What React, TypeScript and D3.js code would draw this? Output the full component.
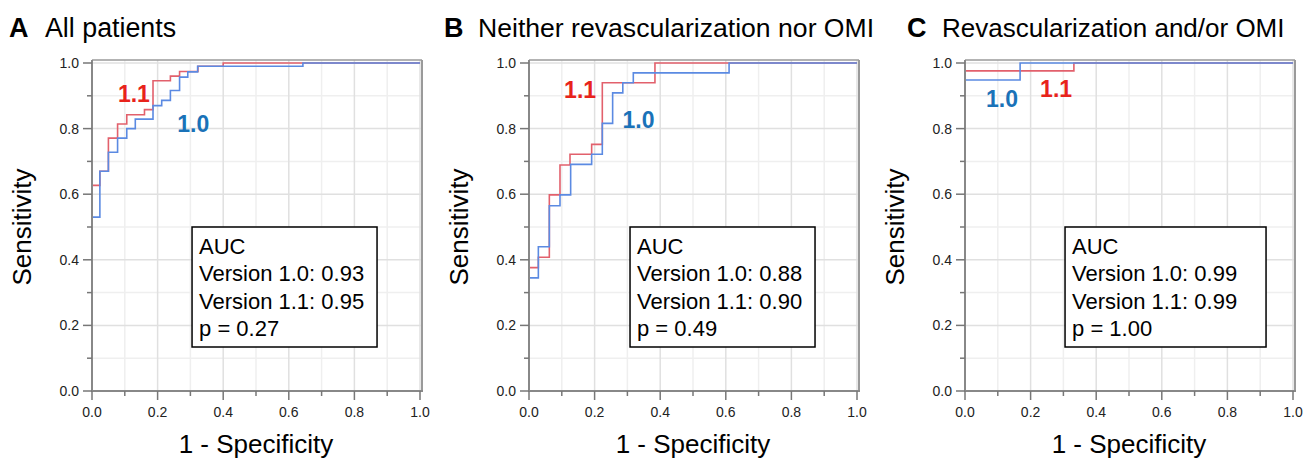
import React from "react";
import * as d3 from "d3";

// ---------- data ----------
const panelLetters = ["A", "B", "C"];
const panelTitles = ["All patients", "Neither revascularization nor OMI", "Revascularization and/or OMI"];

// ROC jump points: [1 - specificity, sensitivity]
const rocA_v10: [number, number][] = [[0, 0], [0, 0.53], [0.024, 0.67], [0.05, 0.728], [0.078, 0.771], [0.106, 0.8], [0.132, 0.829], [0.186, 0.87], [0.2125, 0.886], [0.239, 0.916], [0.267, 0.957], [0.292, 0.973], [0.322, 0.99], [0.643, 1.0], [1, 1]];
const rocA_v11: [number, number][] = [[0, 0], [0, 0.627], [0.024, 0.67], [0.05, 0.771], [0.078, 0.814], [0.106, 0.842], [0.16, 0.858], [0.186, 0.946], [0.239, 0.96], [0.267, 0.974], [0.323, 0.99], [0.4, 1.0], [1, 1]];
const rocB_v10: [number, number][] = [[0, 0], [0, 0.345], [0.0285, 0.44], [0.062, 0.565], [0.0945, 0.598], [0.127, 0.691], [0.191, 0.722], [0.2235, 0.816], [0.255, 0.909], [0.286, 0.94], [0.318, 0.97], [0.61, 1.0], [1, 1]];
const rocB_v11: [number, number][] = [[0, 0], [0, 0.376], [0.0285, 0.408], [0.062, 0.598], [0.0945, 0.689], [0.125, 0.722], [0.191, 0.752], [0.2235, 0.94], [0.384, 1.0], [1, 1]];
const rocC_v10: [number, number][] = [[0, 0], [0, 0.948], [0.168, 1.0], [1, 1]];
const rocC_v11: [number, number][] = [[0, 0], [0, 0.976], [0.332, 1.0], [1, 1]];

const aucV10 = ["0.93", "0.88", "0.99"];
const aucV11 = ["0.95", "0.90", "0.99"];
const pValues = ["0.27", "0.49", "1.00"];

const majorTicks = [0, 0.2, 0.4, 0.6, 0.8, 1.0];
const minorTicks = [0.1, 0.3, 0.5, 0.7, 0.9];

// ---------- layout ----------
const W = 1304, H = 459;
const panelX0 = [92, 529, 965];
const letterX = [9, 444, 907];
const titleX = [45, 478, 942];
const titleSize = [26.8, 26.6, 26];
const plotW = 328;
const yTop = 63, yBot = 391;
const FONT = "'Liberation Sans', Arial, Helvetica, sans-serif";
const RED_LINE = "#e2606c";
const BLUE_LINE = "#5b8ae2";
const RED_TXT = "#e8231b";
const BLUE_TXT = "#1a72b8";

// annotation positions in data units
const labelPos = [
  { v11: [0.079, 0.881], v10: [0.26, 0.79] },
  { v11: [0.107, 0.894], v10: [0.285, 0.802] },
  { v10: [0.064, 0.866], v11: [0.229, 0.896] },
];
const boxPos = [
  { x: 0.305, y: 0.5, w: 185 },
  { x: 0.308, y: 0.5, w: 185 },
  { x: 0.305, y: 0.5, w: 201 },
];

function Panel({ i }: { i: number }) {
  const x0 = panelX0[i];
  const x = d3.scaleLinear().domain([0, 1]).range([x0, x0 + plotW]);
  const y = d3.scaleLinear().domain([0, 1]).range([yBot, yTop]);
  const line = d3.line<[number, number]>().x(d => x(d[0])).y(d => y(d[1])).curve(d3.curveStepAfter);
  const rocs = [[rocA_v10, rocA_v11], [rocB_v10, rocB_v11], [rocC_v10, rocC_v11]][i];
  const lp = labelPos[i];
  const bp = boxPos[i];
  const bx = x(bp.x), by = y(bp.y);
  const frameTop = yTop - 3, frameRight = x0 + plotW + 2;
  return (
    <g>
      {/* titles */}
      <text x={letterX[i]} y={37} fontFamily={FONT} fontSize={27} fontWeight="bold" fill="#000">{panelLetters[i]}</text>
      <text x={titleX[i]} y={37} fontFamily={FONT} fontSize={titleSize[i]} fill="#000">{panelTitles[i]}</text>
      {/* grid */}
      {minorTicks.map(t => (
        <g key={"mn" + t}>
          <line x1={x(t)} x2={x(t)} y1={frameTop} y2={yBot} stroke="#efefef" strokeWidth={1.5} />
          <line x1={x0} x2={frameRight} y1={y(t)} y2={y(t)} stroke="#efefef" strokeWidth={1.5} />
        </g>
      ))}
      {majorTicks.slice(1, 5).map(t => (
        <g key={"mj" + t}>
          <line x1={x(t)} x2={x(t)} y1={frameTop} y2={yBot} stroke="#e0e0e0" strokeWidth={1.5} />
          <line x1={x0} x2={frameRight} y1={y(t)} y2={y(t)} stroke="#e0e0e0" strokeWidth={1.5} />
        </g>
      ))}
      <line x1={x(1)} x2={x(1)} y1={frameTop} y2={yBot} stroke="#e0e0e0" strokeWidth={1.5} />
      <line x1={x0} x2={frameRight} y1={y(1)} y2={y(1)} stroke="#e0e0e0" strokeWidth={1.5} />
      {/* frame top/right */}
      <line x1={x0} x2={frameRight} y1={frameTop} y2={frameTop} stroke="#9a9a9a" strokeWidth={1.5} />
      <line x1={frameRight} x2={frameRight} y1={frameTop} y2={yBot} stroke="#9a9a9a" strokeWidth={2} />
      {/* curves */}
      <path d={line(rocs[1]) || ""} fill="none" stroke={RED_LINE} strokeWidth={1.6} />
      <path d={line(rocs[0]) || ""} fill="none" stroke={BLUE_LINE} strokeWidth={1.6} />
      {/* axes */}
      <line x1={x0} x2={x0} y1={frameTop} y2={yBot + 1} stroke="#888" strokeWidth={2} />
      <line x1={x0 - 1} x2={frameRight + 1} y1={yBot} y2={yBot} stroke="#888" strokeWidth={2} />
      {majorTicks.map(t => (
        <g key={"t" + t}>
          <line x1={x0 - 9} x2={x0} y1={y(t)} y2={y(t)} stroke="#777" strokeWidth={1.5} />
          <line x1={x(t)} x2={x(t)} y1={yBot} y2={yBot + 9} stroke="#777" strokeWidth={1.5} />
          <text x={x0 - 13} y={y(t)} dy="0.35em" textAnchor="end" fontFamily={FONT} fontSize={14} fill="#222">{d3.format(".1f")(t)}</text>
          <text x={x(t)} y={417} textAnchor="middle" fontFamily={FONT} fontSize={14} fill="#222">{d3.format(".1f")(t)}</text>
        </g>
      ))}
      {minorTicks.map(t => (
        <g key={"m" + t}>
          <line x1={x0 - 5} x2={x0} y1={y(t)} y2={y(t)} stroke="#777" strokeWidth={1.5} />
          <line x1={x(t)} x2={x(t)} y1={yBot} y2={yBot + 5} stroke="#777" strokeWidth={1.5} />
        </g>
      ))}
      {/* axis titles */}
      <text transform={`translate(${x0 - 61},${(yTop + yBot) / 2}) rotate(-90)`} textAnchor="middle" fontFamily={FONT} fontSize={26} fill="#000">Sensitivity</text>
      <text x={x0 + plotW / 2} y={453} textAnchor="middle" fontFamily={FONT} fontSize={26} fill="#000">1 - Specificity</text>
      {/* labels */}
      <text x={x(lp.v11[0])} y={y(lp.v11[1])} fontFamily={FONT} fontSize={23} fontWeight="bold" fill={RED_TXT}>1.1</text>
      <text x={x(lp.v10[0])} y={y(lp.v10[1])} fontFamily={FONT} fontSize={23} fontWeight="bold" fill={BLUE_TXT}>1.0</text>
      {/* AUC box */}
      <rect x={bx} y={by} width={bp.w} height={120} fill="#fff" stroke="#000" strokeWidth={1.5} />
      {["AUC", `Version 1.0: ${aucV10[i]}`, `Version 1.1: ${aucV11[i]}`, `p = ${pValues[i]}`].map((s, k) => (
        <text key={k} x={bx + 7} y={by + 27 + k * 27.3} fontFamily={FONT} fontSize={22} fill="#000">{s}</text>
      ))}
    </g>
  );
}

export default function App() {
  return (
    <svg width={W} height={H} viewBox={`0 0 ${W} ${H}`} style={{ position: "absolute", left: 0, top: 0, background: "#fff" }}>
      <rect width={W} height={H} fill="#fff" />
      {[0, 1, 2].map(i => <Panel key={i} i={i} />)}
    </svg>
  );
}
